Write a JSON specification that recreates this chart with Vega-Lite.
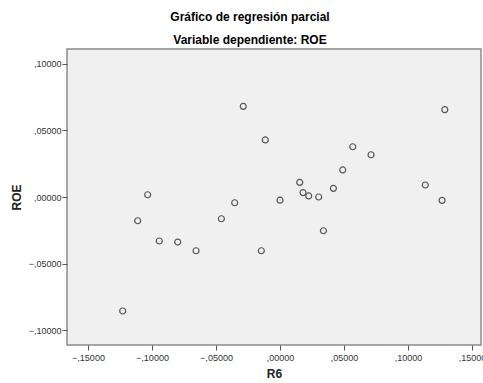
{
  "$schema": "https://vega.github.io/schema/vega-lite/v6.json",
  "autosize": {"type": "none"},
  "padding": {"left": 67, "top": 49, "right": 2, "bottom": 38},
  "width": 414,
  "height": 296,
  "background": "#ffffff",
  "title": {
    "text": "Gráfico de regresión parcial",
    "subtitle": "Variable dependiente: ROE",
    "anchor": "middle",
    "frame": "group",
    "dx": -24,
    "font": "Liberation Sans",
    "fontSize": 12,
    "fontWeight": "bold",
    "color": "#000000",
    "subtitleFont": "Liberation Sans",
    "subtitleFontSize": 12,
    "subtitleFontWeight": "bold",
    "subtitleColor": "#000000",
    "subtitlePadding": 11,
    "offset": 2
  },
  "config": {
    "view": {"fill": "#f0f0f0", "stroke": "#8a8a8a", "strokeWidth": 1.5},
    "axis": {
      "grid": false,
      "domain": false,
      "tickColor": "#555555",
      "tickSize": 5,
      "tickWidth": 1,
      "labelFont": "Liberation Sans",
      "labelFontSize": 9,
      "labelColor": "#333333",
      "titleFont": "Liberation Sans",
      "titleFontSize": 12,
      "titleFontWeight": "bold",
      "titleColor": "#222222"
    }
  },
  "data": {
    "values": [
      {"R6": -0.1229, "ROE": -0.0855},
      {"R6": -0.1112, "ROE": -0.0178},
      {"R6": -0.1034, "ROE": 0.0017},
      {"R6": -0.0943, "ROE": -0.0330},
      {"R6": -0.0799, "ROE": -0.0338},
      {"R6": -0.0656, "ROE": -0.0403},
      {"R6": -0.0458, "ROE": -0.0163},
      {"R6": -0.0354, "ROE": -0.0043},
      {"R6": -0.0287, "ROE": 0.0680},
      {"R6": -0.0146, "ROE": -0.0403},
      {"R6": -0.0115, "ROE": 0.0428},
      {"R6": 0.0000, "ROE": -0.0024},
      {"R6": 0.0154, "ROE": 0.0110},
      {"R6": 0.0180, "ROE": 0.0033},
      {"R6": 0.0224, "ROE": 0.0008},
      {"R6": 0.0302, "ROE": 0.0000},
      {"R6": 0.0339, "ROE": -0.0253},
      {"R6": 0.0417, "ROE": 0.0065},
      {"R6": 0.0490, "ROE": 0.0203},
      {"R6": 0.0568, "ROE": 0.0377},
      {"R6": 0.0711, "ROE": 0.0317},
      {"R6": 0.1135, "ROE": 0.0090},
      {"R6": 0.1266, "ROE": -0.0025},
      {"R6": 0.1287, "ROE": 0.0655}
    ]
  },
  "mark": {"type": "point", "shape": "circle", "filled": false, "stroke": "#555555", "strokeWidth": 1.2, "size": 36, "opacity": 1},
  "encoding": {
    "x": {
      "field": "R6",
      "type": "quantitative",
      "title": "R6",
      "scale": {"domain": [-0.1664, 0.1570], "nice": false, "zero": false},
      "axis": {
        "values": [-0.15, -0.1, -0.05, 0, 0.05, 0.1, 0.15],
        "labelExpr": "replace(format(datum.value, '.5f'), '0.', ',')",
        "labelPadding": 3,
        "titlePadding": 6
      }
    },
    "y": {
      "field": "ROE",
      "type": "quantitative",
      "title": "ROE",
      "scale": {"domain": [-0.111, 0.111], "nice": false, "zero": false},
      "axis": {
        "values": [-0.1, -0.05, 0, 0.05, 0.1],
        "labelExpr": "replace(format(datum.value, '.5f'), '0.', ',')",
        "labelPadding": 1,
        "titlePadding": 5
      }
    }
  }
}
